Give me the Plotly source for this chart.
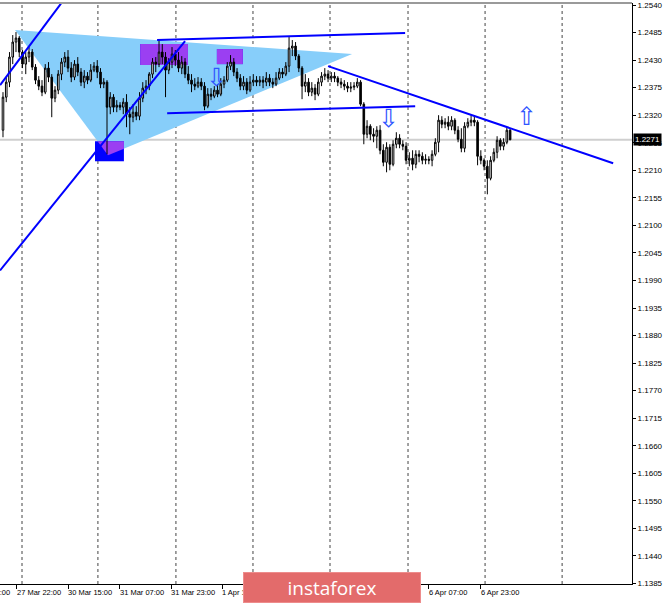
import plotly.graph_objects as go

# ---------------- data (H1 candles) ----------------
opens = [1.2290, 1.2356, 1.2386, 1.2436, 1.2466, 1.2474, 1.2446, 1.2422, 1.2436, 1.2446,
         1.2416, 1.2390, 1.2378, 1.2366, 1.2414, 1.2396, 1.2354, 1.2370, 1.2402, 1.2426,
         1.2436, 1.2414, 1.2396, 1.2422, 1.2406, 1.2386, 1.2398, 1.2390, 1.2410, 1.2418,
         1.2406, 1.2382, 1.2386, 1.2336, 1.2356, 1.2336, 1.2340, 1.2336, 1.2346, 1.2322,
         1.2316, 1.2326, 1.2318, 1.2354, 1.2374, 1.2378, 1.2402, 1.2426, 1.2422, 1.2446,
         1.2436, 1.2410, 1.2426, 1.2442, 1.2430, 1.2414, 1.2426, 1.2402, 1.2390, 1.2382,
         1.2378, 1.2386, 1.2378, 1.2338, 1.2362, 1.2358, 1.2370, 1.2362, 1.2382, 1.2390,
         1.2418, 1.2426, 1.2406, 1.2394, 1.2378, 1.2386, 1.2370, 1.2386, 1.2390, 1.2386,
         1.2390, 1.2386, 1.2394, 1.2386, 1.2382, 1.2394, 1.2406, 1.2402, 1.2418, 1.2454,
         1.2458, 1.2438, 1.2414, 1.2378, 1.2386, 1.2366, 1.2374, 1.2362, 1.2386, 1.2398,
         1.2402, 1.2394, 1.2398, 1.2394, 1.2386, 1.2382, 1.2378, 1.2374, 1.2376, 1.2378,
         1.2386, 1.2342, 1.2282, 1.2298, 1.2282, 1.2278, 1.2290, 1.2250, 1.2226, 1.2256,
         1.2222, 1.2262, 1.2274, 1.2262, 1.2258, 1.2230, 1.2234, 1.2222, 1.2242, 1.2238,
         1.2230, 1.2232, 1.2230, 1.2242, 1.2266, 1.2310, 1.2302, 1.2306, 1.2298, 1.2310,
         1.2290, 1.2272, 1.2254, 1.2298, 1.2306, 1.2310, 1.2306, 1.2238, 1.2230, 1.2218,
         1.2194, 1.2230, 1.2246, 1.2270, 1.2258, 1.2266, 1.2290]

highs = [1.2366, 1.2396, 1.2446, 1.2480, 1.2486, 1.2478, 1.2450, 1.2446, 1.2456, 1.2452,
         1.2422, 1.2398, 1.2390, 1.2422, 1.2426, 1.2402, 1.2378, 1.2410, 1.2434, 1.2446,
         1.2450, 1.2426, 1.2430, 1.2436, 1.2414, 1.2410, 1.2406, 1.2422, 1.2426, 1.2430,
         1.2414, 1.2394, 1.2390, 1.2366, 1.2362, 1.2350, 1.2346, 1.2354, 1.2362, 1.2336,
         1.2342, 1.2338, 1.2366, 1.2386, 1.2390, 1.2406, 1.2434, 1.2436, 1.2470, 1.2462,
         1.2446, 1.2434, 1.2456, 1.2450, 1.2446, 1.2438, 1.2434, 1.2418, 1.2402, 1.2394,
         1.2396, 1.2394, 1.2386, 1.2374, 1.2374, 1.2378, 1.2382, 1.2394, 1.2398, 1.2426,
         1.2440, 1.2434, 1.2414, 1.2402, 1.2398, 1.2394, 1.2398, 1.2402, 1.2398, 1.2398,
         1.2398, 1.2406, 1.2402, 1.2394, 1.2406, 1.2414, 1.2414, 1.2426, 1.2476, 1.2470,
         1.2466, 1.2442, 1.2418, 1.2402, 1.2394, 1.2386, 1.2382, 1.2394, 1.2406, 1.2414,
         1.2410, 1.2406, 1.2406, 1.2398, 1.2394, 1.2390, 1.2386, 1.2386, 1.2386, 1.2394,
         1.2390, 1.2346, 1.2310, 1.2302, 1.2294, 1.2298, 1.2300, 1.2262, 1.2266, 1.2262,
         1.2270, 1.2286, 1.2282, 1.2270, 1.2266, 1.2246, 1.2250, 1.2250, 1.2250, 1.2246,
         1.2242, 1.2238, 1.2250, 1.2274, 1.2320, 1.2318, 1.2314, 1.2318, 1.2318, 1.2314,
         1.2298, 1.2294, 1.2306, 1.2314, 1.2320, 1.2320, 1.2310, 1.2250, 1.2234, 1.2230,
         1.2238, 1.2254, 1.2278, 1.2274, 1.2274, 1.2296, 1.2294]

lows = [1.2276, 1.2346, 1.2376, 1.2422, 1.2446, 1.2436, 1.2414, 1.2402, 1.2426, 1.2410,
        1.2382, 1.2370, 1.2358, 1.2362, 1.2386, 1.2316, 1.2346, 1.2362, 1.2390, 1.2416,
        1.2406, 1.2386, 1.2390, 1.2398, 1.2378, 1.2374, 1.2382, 1.2386, 1.2406, 1.2394,
        1.2374, 1.2374, 1.2242, 1.2322, 1.2326, 1.2326, 1.2330, 1.2322, 1.2296, 1.2282,
        1.2306, 1.2310, 1.2310, 1.2346, 1.2362, 1.2370, 1.2394, 1.2406, 1.2416, 1.2422,
        1.2356, 1.2402, 1.2414, 1.2418, 1.2406, 1.2402, 1.2394, 1.2382, 1.2366, 1.2370,
        1.2374, 1.2370, 1.2330, 1.2334, 1.2350, 1.2354, 1.2356, 1.2358, 1.2374, 1.2386,
        1.2410, 1.2398, 1.2386, 1.2370, 1.2370, 1.2362, 1.2366, 1.2378, 1.2378, 1.2378,
        1.2374, 1.2378, 1.2378, 1.2374, 1.2378, 1.2390, 1.2394, 1.2398, 1.2406, 1.2438,
        1.2430, 1.2406, 1.2352, 1.2366, 1.2358, 1.2358, 1.2350, 1.2358, 1.2378, 1.2390,
        1.2386, 1.2386, 1.2386, 1.2378, 1.2374, 1.2370, 1.2366, 1.2366, 1.2370, 1.2374,
        1.2338, 1.2262, 1.2274, 1.2270, 1.2266, 1.2254, 1.2242, 1.2218, 1.2206, 1.2210,
        1.2218, 1.2254, 1.2254, 1.2250, 1.2222, 1.2218, 1.2210, 1.2214, 1.2226, 1.2222,
        1.2222, 1.2222, 1.2218, 1.2238, 1.2246, 1.2294, 1.2294, 1.2290, 1.2290, 1.2282,
        1.2266, 1.2246, 1.2246, 1.2294, 1.2298, 1.2298, 1.2220, 1.2222, 1.2210, 1.2162,
        1.2190, 1.2226, 1.2234, 1.2250, 1.2250, 1.2262, 1.2270]

closes = [1.2356, 1.2386, 1.2436, 1.2466, 1.2474, 1.2446, 1.2422, 1.2436, 1.2446, 1.2416,
          1.2390, 1.2378, 1.2366, 1.2414, 1.2396, 1.2354, 1.2370, 1.2402, 1.2426, 1.2436,
          1.2414, 1.2396, 1.2422, 1.2406, 1.2386, 1.2398, 1.2390, 1.2410, 1.2418, 1.2406,
          1.2382, 1.2386, 1.2336, 1.2356, 1.2336, 1.2340, 1.2336, 1.2346, 1.2322, 1.2316,
          1.2326, 1.2318, 1.2354, 1.2374, 1.2378, 1.2402, 1.2426, 1.2422, 1.2446, 1.2436,
          1.2410, 1.2426, 1.2442, 1.2430, 1.2414, 1.2426, 1.2402, 1.2390, 1.2382, 1.2378,
          1.2386, 1.2378, 1.2338, 1.2362, 1.2358, 1.2370, 1.2362, 1.2382, 1.2390, 1.2418,
          1.2426, 1.2406, 1.2394, 1.2378, 1.2386, 1.2370, 1.2386, 1.2390, 1.2386, 1.2390,
          1.2386, 1.2394, 1.2386, 1.2382, 1.2394, 1.2406, 1.2402, 1.2418, 1.2454, 1.2458,
          1.2438, 1.2414, 1.2378, 1.2386, 1.2366, 1.2374, 1.2362, 1.2386, 1.2398, 1.2402,
          1.2394, 1.2398, 1.2394, 1.2386, 1.2382, 1.2378, 1.2374, 1.2376, 1.2378, 1.2386,
          1.2342, 1.2282, 1.2298, 1.2282, 1.2278, 1.2290, 1.2250, 1.2226, 1.2256, 1.2222,
          1.2262, 1.2274, 1.2262, 1.2258, 1.2230, 1.2234, 1.2222, 1.2242, 1.2238, 1.2230,
          1.2232, 1.2230, 1.2242, 1.2266, 1.2310, 1.2302, 1.2306, 1.2298, 1.2310, 1.2290,
          1.2272, 1.2254, 1.2298, 1.2306, 1.2310, 1.2306, 1.2238, 1.2230, 1.2218, 1.2194,
          1.2230, 1.2246, 1.2270, 1.2258, 1.2266, 1.2290, 1.2271]

current_price = 1.2271

# time-axis labels (bar position of each label) and dotted grid positions
# (labels that sit entirely under the badge in the reference are not listed)
time_labels = ["27 Mar 06:00", "27 Mar 22:00", "30 Mar 15:00", "31 Mar 07:00", "31 Mar 23:00",
               "1 Apr 15:00", "6 Apr 07:00", "6 Apr 23:00"]
time_label_bars = [-11.5, 4.3, 20.1, 35.9, 51.7, 67.5, 130.9, 147.0]
grid_bars = [5.85, 29.2, 53.2, 76.9, 100.6, 124.6, 148.3, 172.0]

price_ticks = [round(1.1385 + 0.0055 * k, 4) for k in range(22)]

# analysis drawings, anchored at (bar, price)
triangle = [(3.7, 1.2490), (32.3, 1.2240), (107.4, 1.2442)]
boxes = [((42.2, 1.2462), (56.9, 1.2420)),
         ((65.8, 1.2452), (73.8, 1.2422)),
         ((28.3, 1.2268), (37.2, 1.2228))]
trend_lines = [((-0.9, 1.2380), (20.5, 1.2566)),
               ((-0.9, 1.2010), (56.0, 1.2468)),
               ((47.4, 1.2470), (123.7, 1.2484)),
               ((50.5, 1.2324), (126.8, 1.2338)),
               ((100.0, 1.2418), (187.7, 1.2224))]
arrows = [("⇩", 65.8, 1.2396), ("⇩", 118.5, 1.2314), ("⇧", 161.0, 1.2318)]

# ---------------- figure ----------------
bars = list(range(len(closes)))
X_RANGE = [-0.92, 193.5]
Y_RANGE = [1.1384, 1.2544]

fig = go.Figure()
fig.add_trace(go.Candlestick(
    x=bars, open=opens, high=highs, low=lows, close=closes,
    increasing=dict(line=dict(color="black", width=1), fillcolor="white"),
    decreasing=dict(line=dict(color="black", width=1), fillcolor="black"),
    whiskerwidth=0, showlegend=False, hoverinfo="skip"))

shapes = []
# dotted vertical grid
for g in grid_bars:
    shapes.append(dict(type="line", xref="x", yref="paper", x0=g, x1=g, y0=0, y1=1,
                       line=dict(color="#444444", width=1, dash="3px,3px"), layer="below"))
# current price line
shapes.append(dict(type="line", xref="paper", yref="y", x0=0, x1=1, y0=current_price, y1=current_price,
                   line=dict(color="#CFCFCF", width=2), layer="below"))


def path_of(poly):
    return "M " + " L ".join(f"{x},{y}" for x, y in poly) + " Z"


def clip(poly, x0, x1, y0, y1):
    def clip_edge(pts, inside, inter):
        out = []
        for k in range(len(pts)):
            cur, prev = pts[k], pts[k - 1]
            if inside(cur):
                if not inside(prev):
                    out.append(inter(prev, cur))
                out.append(cur)
            elif inside(prev):
                out.append(inter(prev, cur))
        return out

    def ix(xc):
        return lambda a, b: (xc, a[1] + (b[1] - a[1]) * (xc - a[0]) / (b[0] - a[0]))

    def iy(yc):
        return lambda a, b: (a[0] + (b[0] - a[0]) * (yc - a[1]) / (b[1] - a[1]), yc)

    pts = list(poly)
    pts = clip_edge(pts, lambda p: p[0] >= x0, ix(x0))
    if pts: pts = clip_edge(pts, lambda p: p[0] <= x1, ix(x1))
    if pts: pts = clip_edge(pts, lambda p: p[1] >= y0, iy(y0))
    if pts: pts = clip_edge(pts, lambda p: p[1] <= y1, iy(y1))
    return pts


shapes.append(dict(type="path", xref="x", yref="y", path=path_of(triangle),
                   fillcolor="#87CEFA", line=dict(width=0), layer="below"))
for (bx0, by1), (bx1, by0) in boxes:
    shapes.append(dict(type="rect", xref="x", yref="y", x0=bx0, x1=bx1, y0=by0, y1=by1,
                       fillcolor="#0000FF", line=dict(width=0), layer="below"))
    part = clip(triangle, bx0, bx1, by0, by1)
    if len(part) >= 3:
        shapes.append(dict(type="path", xref="x", yref="y", path=path_of(part),
                           fillcolor="#9B3FF2", line=dict(width=0), layer="below"))

for (lx0, ly0), (lx1, ly1) in trend_lines:
    shapes.append(dict(type="line", xref="x", yref="y", x0=lx0, y0=ly0, x1=lx1, y1=ly1,
                       line=dict(color="#0000FF", width=2), layer="above"))

# top frame line
shapes.append(dict(type="line", xref="paper", yref="paper", x0=0, x1=1, y0=1, y1=1,
                   line=dict(color="#9A9A9A", width=2)))

annotations = []
for sym, ax, ay in arrows:
    annotations.append(dict(x=ax, y=ay, xref="x", yref="y", text=sym, showarrow=False,
                            font=dict(family="DejaVu Sans", size=25, color="#2F55FF")))

for lab, b in zip(time_labels, time_label_bars):
    px = (b - X_RANGE[0]) / (X_RANGE[1] - X_RANGE[0])
    annotations.append(dict(x=px, y=0, xref="paper", yref="paper", text=lab, showarrow=False,
                            xanchor="left", yanchor="top", xshift=-2, yshift=-2,
                            font=dict(family="Liberation Sans", size=7.5, color="#000000")))

annotations.append(dict(x=1, y=current_price, xref="paper", yref="y", text=f"{current_price:.4f}",
                        showarrow=False, xanchor="left", xshift=1, bgcolor="#000000", borderpad=1,
                        font=dict(family="Liberation Sans", size=8, color="#FFFFFF")))
# instaforex badge (drawn last so it covers the labels beneath it)
annotations.append(dict(x=0.5253, y=-0.006, xref="paper", yref="paper", text="instaforex",
                        xanchor="center", yanchor="middle",
                        showarrow=False, width=176, height=29, align="center", valign="middle",
                        bgcolor="#E36B6B", bordercolor="#EE8C8C", borderwidth=1, borderpad=0,
                        font=dict(family="Open Sans", size=19, color="#FFFFFF")))

fig.update_layout(
    width=665, height=603,
    margin=dict(l=0, r=33, t=3, b=19),
    paper_bgcolor="white", plot_bgcolor="white",
    shapes=shapes, annotations=annotations,
    showlegend=False,
    xaxis=dict(range=X_RANGE, showgrid=False, zeroline=False, rangeslider=dict(visible=False),
               showline=True, linecolor="black", linewidth=1,
               tickvals=time_label_bars, ticktext=[""] * len(time_label_bars),
               ticks="outside", ticklen=4, tickcolor="black"),
    yaxis=dict(range=Y_RANGE, side="right", showgrid=False, zeroline=False,
               showline=True, linecolor="black", linewidth=1,
               tickvals=price_ticks, ticktext=[f"{v:.4f}" for v in price_ticks],
               ticks="outside", ticklen=3, tickcolor="black",
               tickfont=dict(family="Liberation Sans", size=8, color="#000000")),
)

fig.write_html("out.html", config={"displayModeBar": False},
               post_script="document.body.style.margin='0px';")
